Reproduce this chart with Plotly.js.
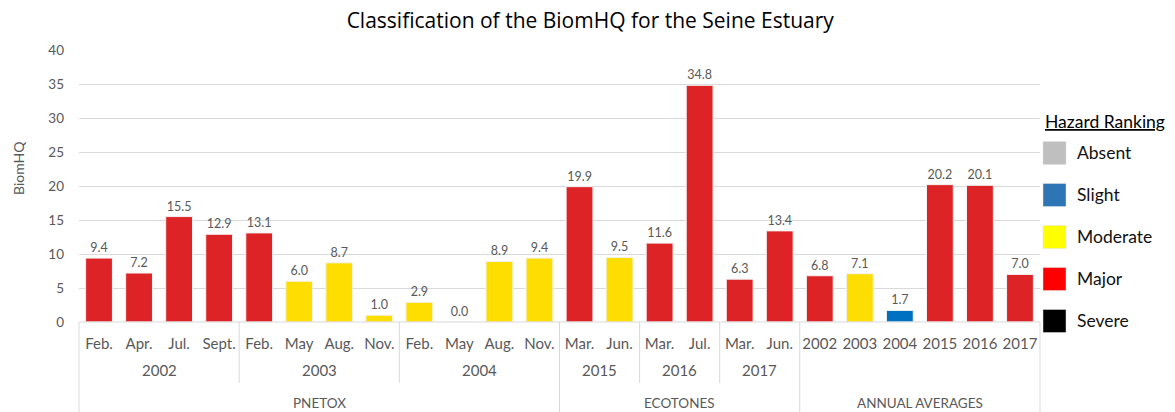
<!DOCTYPE html>
<html>
<head>
<meta charset="utf-8">
<script src="https://cdn.plot.ly/plotly-3.0.1.min.js"></script>
<style>html,body{margin:0;padding:0;background:#fff;}#chart{width:1175px;height:412px;}</style>
</head>
<body>
<div id="chart"></div>
<script>
// ---- data ----
const months = ["Feb.","Apr.","Jul.","Sept.","Feb.","May","Aug.","Nov.","Feb.","May","Aug.","Nov.",
                "Mar.","Jun.","Mar.","Jul.","Mar.","Jun.",
                "2002","2003","2004","2015","2016","2017"];
const values = [9.4,7.2,15.5,12.9,13.1,6.0,8.7,1.0,2.9,0.0,8.9,9.4,
                19.9,9.5,11.6,34.8,6.3,13.4,
                6.8,7.1,1.7,20.2,20.1,7.0];
const hazard = ["Major","Major","Major","Major","Major","Moderate","Moderate","Moderate",
                "Moderate","Moderate","Moderate","Moderate",
                "Major","Moderate","Major","Major","Major","Major",
                "Major","Moderate","Slight","Major","Major","Major"];
// year sub-groups: [label, first index, last index]
const years = [["2002",0,3],["2003",4,7],["2004",8,11],["2015",12,13],["2016",14,15],["2017",16,17]];
// top-level groups: [label, first index, last index]
const groups = [["PNETOX",0,11],["ECOTONES",12,17],["ANNUAL AVERAGES",18,23]];
const legendNames = ["Absent","Slight","Moderate","Major","Severe"];

// ---- styles ----
const barColor = {Absent:"#BFBFBF", Slight:"#0070C0", Moderate:"#FDDE00", Major:"#DE2326", Severe:"#000000"};
const legendColor = {Absent:"#BFBFBF", Slight:"#2E75B6", Moderate:"#FFFF00", Major:"#FF0000", Severe:"#000000"};
const FONT = "Lato, 'Open Sans', sans-serif";
const TFONT = "'Open Sans', Lato, sans-serif";
const grey = "#595959";
const lineCol = "#D9D9D9";

const n = values.length;
const xs = values.map((v,i)=>i);

const trace = {
  type: "bar",
  x: xs,
  y: values,
  marker: {color: hazard.map(h=>barColor[h]), line: {color: "#F2F2F2", width: 1}},
  text: values.map(v=>v.toFixed(1)),
  textposition: "outside",
  textfont: {family: FONT, size: 12.5, color: grey},
  cliponaxis: false,
  hoverinfo: "x+y",
  showlegend: false
};

// plot geometry in pixels (for paper-coordinate conversion of decorations)
const W = 1175, H = 412;
const mL = 79, mR = 135, mT = 50, mB = 90;
const plotH = H - mT - mB;
const py = px => -(px - (H - mB)) / plotH; // pixel y -> paper y
const plotW = W - mL - mR;
const pxX = px => (px - mL) / plotW;
const bx = b => (b + 0.5) / n; // category boundary -> paper x

const shapes = [];
const annotations = [];

// bottom axis line
shapes.push({type:"line", xref:"paper", yref:"paper", x0:0, x1:1, y0:0, y1:0, line:{color:lineCol, width:1}});
// outer edges
shapes.push({type:"line", xref:"paper", yref:"paper", x0:0, x1:0, y0:0, y1:py(412), line:{color:lineCol, width:1}});
shapes.push({type:"line", xref:"paper", yref:"paper", x0:1, x1:1, y0:0, y1:py(412), line:{color:lineCol, width:1}});
// year separators
years.forEach((yr,k)=>{
  if (k>0) {
    const b = yr[1]-0.5;
    const isGroup = groups.some(g=>g[1]===yr[1]);
    if (!isGroup) shapes.push({type:"line", xref:"paper", yref:"paper", x0:bx(b), x1:bx(b), y0:0, y1:py(383), line:{color:lineCol, width:1}});
  }
  annotations.push({text: yr[0], xref:"x", yref:"paper", x:(yr[1]+yr[2])/2, y:py(370), yanchor:"middle", showarrow:false,
    font:{family:FONT, size:15, color:grey}});
});
groups.forEach((g,k)=>{
  if (k>0) {
    const b = g[1]-0.5;
    shapes.push({type:"line", xref:"paper", yref:"paper", x0:bx(b), x1:bx(b), y0:0, y1:py(412), line:{color:lineCol, width:1}});
  }
  annotations.push({text: g[0], xref:"x", yref:"paper", x:(g[1]+g[2])/2, y:py(403), yanchor:"middle", showarrow:false,
    font:{family:FONT, size:13.5, color:grey}});
});

// y-axis title
annotations.push({text:"BiomHQ", xref:"paper", yref:"paper", x:pxX(18), y:py(168), textangle:-90, showarrow:false,
  xanchor:"center", yanchor:"middle", font:{family:FONT, size:14, color:grey}});

// custom legend
annotations.push({text:"<u>Hazard Ranking</u>", xref:"paper", yref:"paper", x:pxX(1043), y:py(122), xanchor:"left", yanchor:"middle",
  showarrow:false, font:{family:FONT, size:17.5, color:"#000"}});
const legY = [153,195,237,279,321];
legendNames.forEach((nm,k)=>{
  const cy = legY[k];
  shapes.push({type:"rect", xref:"paper", yref:"paper", x0:pxX(1043), x1:pxX(1066), y0:py(cy-11.5), y1:py(cy+11.5),
    fillcolor:legendColor[nm], line:{color:"#E0E0E0", width:0.5}});
  annotations.push({text:nm, xref:"paper", yref:"paper", x:pxX(1075), y:py(cy-1), xanchor:"left", yanchor:"middle",
    showarrow:false, font:{family:FONT, size:17.5, color:"#111"}});
});

const layout = {
  width: W, height: H,
  margin: {l:mL, r:mR, t:mT, b:mB, pad:0},
  paper_bgcolor:"#fff", plot_bgcolor:"#fff",
  title: {text:"Classification of the BiomHQ for the Seine Estuary", x:0.532, xref:"paper", xanchor:"center", y:1-21/H, yanchor:"middle",
    font:{family:TFONT, size:21, color:"#000"}},
  bargap: 0.33,
  xaxis: {range:[-0.5, n-0.5], tickvals: xs, ticktext: months, showgrid:false, zeroline:false, showline:false,
    ticks:"", ticklabelstandoff: 11, tickfont:{family:FONT, size:15, color:grey}, fixedrange:true},
  yaxis: {range:[0,40], dtick:5, showgrid:true, gridcolor:lineCol, gridwidth:1, zeroline:false, showline:false,
    ticks:"", ticklabelstandoff: 14, tickfont:{family:FONT, size:13.5, color:grey}, fixedrange:true},
  shapes: shapes,
  annotations: annotations,
  showlegend: false
};

Plotly.newPlot("chart", [trace], layout, {displayModeBar:false, staticPlot:true});
</script>
</body>
</html>
